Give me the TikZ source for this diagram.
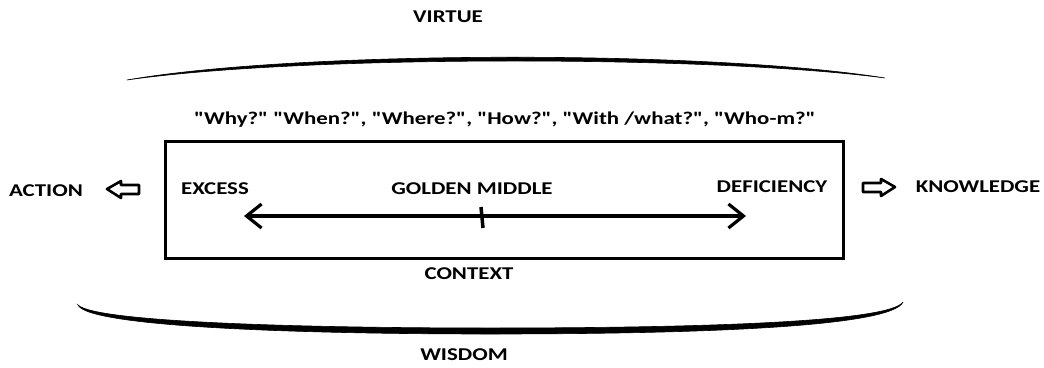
\documentclass[tikz,border=0pt]{standalone}
\usepackage{fontspec}
\setmainfont{Carlito}[Ligatures=TeXOff]
\usetikzlibrary{arrows.meta}
\tikzset{
  lbl/.style={font=\bfseries\fontsize{18}{20}\selectfont, inner sep=0pt, xscale=1.27, transform shape},
  brush/.style={fill=black, draw=black, line width=0.6pt},
  hollow/.style={draw=black, line width=2.6pt, line join=round, fill=white},
  bar/.style={line width=3.2pt}
}
\begin{document}
\begin{tikzpicture}[x=1pt,y=-1pt]
\useasboundingbox (0,0) rectangle (1044,367);
% texts
\node[lbl] (virtue) at (448,17) {VIRTUE};
\node[lbl] (why) at (505,120) {"Why?" "When?", "Where?", "How?", "With /what?", "Who-m?"};
\node[lbl] (action) at (46,191) {ACTION};
\node[lbl] (excess) at (215,189) {EXCESS};
\node[lbl] (golden) at (472,189) {GOLDEN MIDDLE};
\node[lbl] (defic) at (772,187) {DEFICIENCY};
\node[lbl] (know) at (978,187) {KNOWLEDGE};
\node[lbl] (context) at (469,274) {CONTEXT};
\node[lbl] (wisdom) at (464,355) {WISDOM};
% top arc (brush stroke)
\fill[brush] (127,80) .. controls (300,50) and (710,50) .. (885,78)
  .. controls (710,55) and (300,55) .. (127,80) -- cycle;
% bottom arc
\fill[brush] (78,305) .. controls (95,322) and (300,328) .. (490,328)
  .. controls (700,328) and (890,322) .. (903,302)
  .. controls (892,327) and (700,334) .. (490,334)
  .. controls (300,334) and (88,327) .. (78,305) -- cycle;
% context box
\node[draw, line width=3pt, minimum width=678pt, minimum height=117pt, inner sep=0pt] (box) at (504,199.5) {};
% double arrow
\coordinate (al) at (244,216);
\coordinate (ar) at (746,216);
\draw[bar, {Straight Barb[length=15pt,width=24pt]}-{Straight Barb[length=15pt,width=24pt]}] (al) -- (ar);
\coordinate (t1) at (481,207);
\coordinate (t2) at (483,228);
\draw[line width=3.5pt] (t1) -- (t2);
% hollow arrows
\draw[hollow] (107,189) -- (121,181) -- (121,185) -- (139,185) -- (139,194) -- (121,194) -- (121,198) -- cycle;
\draw[hollow] (895,187) -- (881,179) -- (881,183) -- (863,183) -- (863,192) -- (881,192) -- (881,196) -- cycle;
\end{tikzpicture}
\end{document}
